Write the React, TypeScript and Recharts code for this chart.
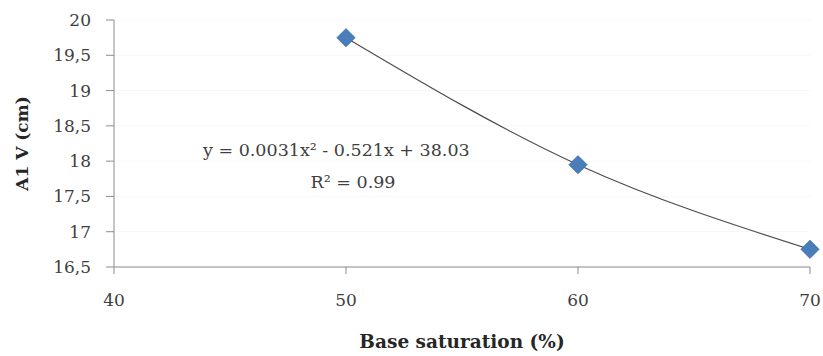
import { CartesianGrid, ComposedChart, Line, Scatter, XAxis, YAxis } from "recharts"

const saturation = [50, 60, 70]
const a1v = [19.75, 17.95, 16.75]
const xTicks = [40, 50, 60, 70]
const yTicks = [16.5, 17, 17.5, 18, 18.5, 19, 19.5, 20]
const equation = "y = 0.0031x² - 0.521x + 38.03"
const rSquared = "R² = 0.99"

const data = saturation.map((x, i) => ({ x, y: a1v[i] }))

const FONT = "'DejaVu Serif', 'Liberation Serif', serif"

const Diamond = (props: any) => {
    const { cx, cy } = props
    const r = 9
    return (
        <polygon
            points={`${cx},${cy - r} ${cx + r},${cy} ${cx},${cy + r} ${cx - r},${cy}`}
            fill="#4a7ebb"
            stroke="#3d6fa8"
            strokeWidth={1}
        />
    )
}

const App = () => {
    return (
        <div style={{ position: 'absolute', left: 0, top: 0, background: '#fff' }}>
            <ComposedChart width={823} height={356} data={data} margin={{ top: 20, right: 13, left: 0, bottom: 0 }}>
                <CartesianGrid horizontal vertical={false} stroke="#f7f7f7" />
                <XAxis
                    dataKey="x"
                    type="number"
                    domain={[40, 70]}
                    ticks={xTicks}
                    height={89}
                    stroke="#8c8c8c"
                    tickSize={7}
                    tickMargin={20}
                    tick={{ fill: '#404040', fontSize: 17, fontFamily: FONT }}
                    label={({ viewBox }: any) => (
                        <text
                            x={viewBox.x + viewBox.width / 2}
                            y={viewBox.y + 76}
                            textAnchor="middle"
                            dominantBaseline="middle"
                            fill="#262626"
                            fontFamily={FONT}
                            fontWeight="bold"
                            fontSize={18.5}
                        >
                            Base saturation (%)
                        </text>
                    )}
                />
                <YAxis
                    type="number"
                    domain={[16.5, 20]}
                    ticks={yTicks}
                    width={114}
                    stroke="#8c8c8c"
                    tickSize={8}
                    tickMargin={15}
                    tick={{ fill: '#404040', fontSize: 17, fontFamily: FONT }}
                    tickFormatter={(v: number) => String(v).replace('.', ',')}
                    label={({ viewBox }: any) => (
                        <text
                            x={23}
                            y={viewBox.y + viewBox.height / 2}
                            transform={`rotate(-90, 23, ${viewBox.y + viewBox.height / 2})`}
                            textAnchor="middle"
                            dominantBaseline="middle"
                            fill="#262626"
                            fontFamily={FONT}
                            fontWeight="bold"
                            fontSize={17}
                        >
                            A1 V (cm)
                        </text>
                    )}
                />
                <Line
                    dataKey="y"
                    type="natural"
                    stroke="#4d4d4d"
                    strokeWidth={1.2}
                    dot={false}
                    activeDot={false}
                    isAnimationActive={false}
                />
                <Scatter dataKey="y" shape={Diamond} isAnimationActive={false} />
                <text x={203} y={151} dominantBaseline="middle" fill="#404040" fontFamily={FONT} fontSize={17.5}>
                    {equation}
                </text>
                <text x={353} y={183} textAnchor="middle" dominantBaseline="middle" fill="#404040" fontFamily={FONT} fontSize={17.5}>
                    {rSquared}
                </text>
            </ComposedChart>
        </div>
    )
}

export default App
